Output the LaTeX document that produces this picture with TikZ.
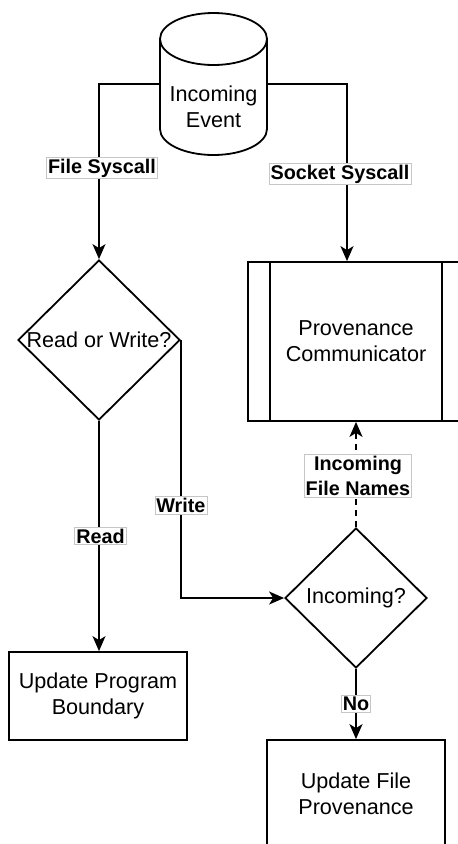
\documentclass[tikz,border=0pt]{standalone}
\usepackage{fontspec}
\setmainfont{Liberation Sans}
\usetikzlibrary{shapes.geometric,arrows.meta}

\begin{document}
\begin{tikzpicture}[x=1pt,y=-1pt,
  every node/.style={font=\fontsize{21.6}{26}\selectfont, align=center, inner sep=0pt},
  line/.style={line width=1.8pt, draw=black},
  arr/.style={line, -{Stealth[length=15pt,width=13pt,inset=4pt]}},
  box/.style={draw, line width=1.8pt, fill=white, minimum width=178pt},
  dia/.style={diamond, draw, line width=1.8pt, fill=white},
  elab/.style={font=\bfseries\fontsize{19.8}{25}\selectfont, fill=white, solid,
               draw=gray!45, line width=0.6pt, inner xsep=1.5pt, inner ysep=1.5pt},
]
\useasboundingbox (0,0) rectangle (458,844);
\clip (0,0) rectangle (458,844);

% incoming event store (cylinder)
\node (ev) at (213.5,84) [minimum width=107pt, minimum height=142pt] {};
\draw[line, fill=white] (160,39) -- (160,129)
  .. controls (160,143.4) and (183.95,155) .. (213.5,155)
  .. controls (243.05,155) and (267,143.4) .. (267,129) -- (267,39);
\draw[line, fill=white] (213.5,39) ellipse [x radius=53.5, y radius=26];
\node (evt) at (213.5,106.5) {Incoming\\Event};

% decision: read or write
\node[dia, minimum width=162pt, minimum height=160pt] (d1) at (99,340) {};
\node (d1t) at (d1) {Read or Write?};

% predefined process box
\node[box, minimum width=216pt, minimum height=159pt] (pc) at (356,341.5) {Provenance\\Communicator};
\draw[line] ([xshift=23pt]pc.north west) -- ([xshift=23pt]pc.south west);
\draw[line] ([xshift=-23pt]pc.north east) -- ([xshift=-23pt]pc.south east);

% decision: incoming
\node[dia, minimum width=142pt, minimum height=140pt] (d2) at (356,598) {};
\node (d2t) at (d2) {Incoming?};

% actions
\node[box, minimum height=88pt] (upb) at (98,696) {Update Program\\Boundary};
\node[box, minimum height=107pt] (ufp) at (356,793.5) {Update File\\Provenance};

% connectors
\draw[arr] (ev.west) -| node[elab, pos=0.74, xshift=3pt] {File Syscall} (d1.north);
\draw[arr] (ev.east) -| node[elab, pos=0.754, xshift=-7pt] {Socket Syscall} ([xshift=-9pt]pc.north);
\draw[arr] (d1.south) -- node[elab, pos=0.5, xshift=1.5pt] {Read} (d1.south |- upb.north);
\draw[arr] (d1.east) |- node[elab, pos=0.32] {Write} (d2.west);
\draw[arr, dash pattern=on 6pt off 5pt] (d2.north) -- node[elab, pos=0.49, xshift=2pt] {Incoming\\File Names} (pc.south);
\draw[arr] (d2.south) -- node[elab] {No} (ufp.north);
\end{tikzpicture}
\end{document}
